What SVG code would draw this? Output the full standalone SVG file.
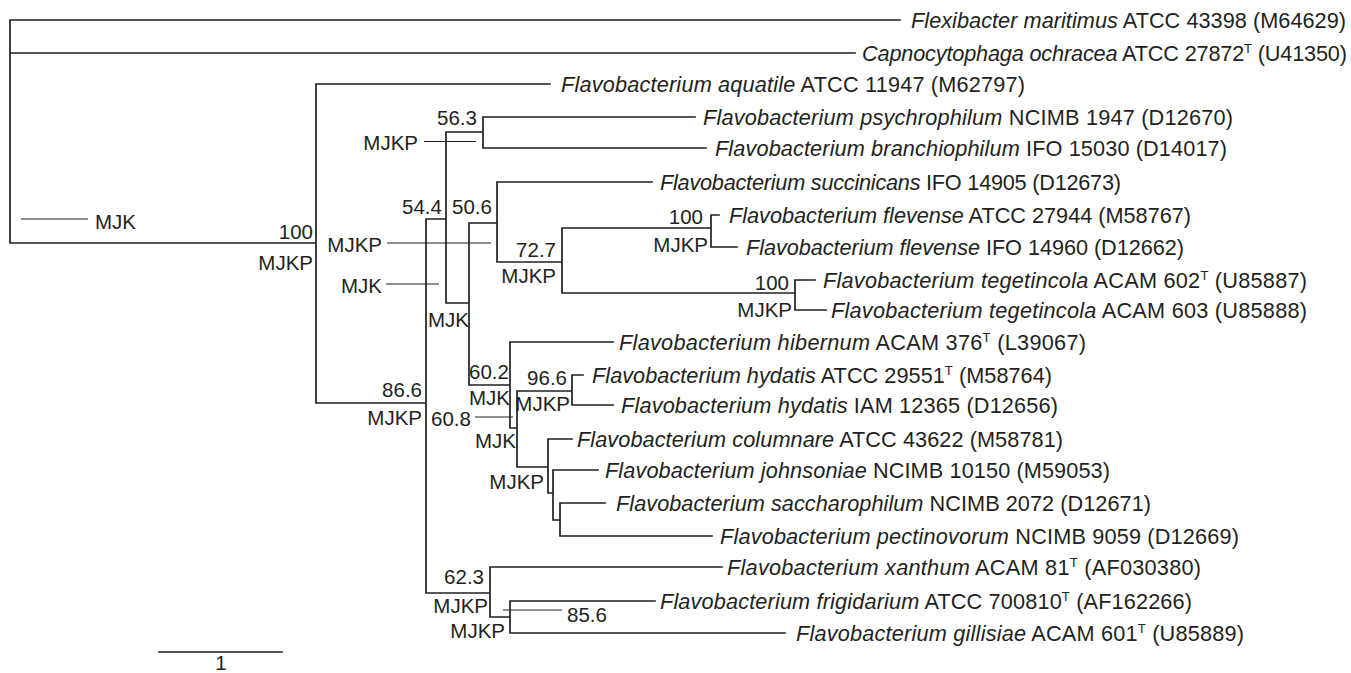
<svg xmlns="http://www.w3.org/2000/svg" width="1351" height="673" viewBox="0 0 1351 673">
<style>
.br{fill:none;stroke:#231f20;stroke-width:1.7;stroke-linecap:square}
.an{fill:none;stroke:#231f20;stroke-width:1.1}
text{font-family:"Liberation Sans",Arial,sans-serif;fill:#231f20}
.tx{font-size:21.7px}
.lb{font-size:20.5px}
.e{text-anchor:end}
.it{font-style:italic}
.sup{font-size:13px}
</style>
<rect width="1351" height="673" fill="#fff"/>
<g id="connectors">
<path class="br" d="M10,20H900M10,53H855M10,20V243H316M316,84V403M316,84H550M316,403H426M426,219V593M426,219H446M446,132V303M446,132H483M483,117V148M483,117H695M483,148H706M446,303H469M469,223V385M469,223H497M497,182V262M497,182H652M497,262H562M562,228V293M562,228H711M711,215V247M711,215H719M711,247H737M562,293H795M795,280V310M795,280H815M795,310H826M469,385H510M510,342V428M510,342H613M510,428H517M517,391V467M517,391H572M572,375V405M572,375H583M572,405H613M517,467H548M548,439V493M548,439H572M548,493H553M553,470V520M553,470H598M553,520H560M560,503V536M560,503H605M560,536H712M426,593H490M490,567V617M490,567H722M490,617H510M510,601V633M510,601H655M510,633H785"/>
<path class="an" d="M21,219H88M424,141.5H476M387,243H491M386,284H439M475,417H513M503,610H562"/>
<path class="br" d="M159,652H282"/>
</g>
<g id="taxa">
<g id="t1"><text class="tx" x="911" y="28" textLength="435" lengthAdjust="spacing"><tspan class="it">Flexibacter maritimus</tspan> ATCC 43398 (M64629)</text></g>
<g id="t2"><text class="tx" x="862" y="61" textLength="485" lengthAdjust="spacing"><tspan class="it">Capnocytophaga ochracea</tspan> ATCC 27872<tspan class="sup" dy="-8">T</tspan><tspan dy="8"> (U41350)</tspan></text></g>
<g id="t3"><text class="tx" x="561" y="92" textLength="464" lengthAdjust="spacing"><tspan class="it">Flavobacterium aquatile</tspan> ATCC 11947 (M62797)</text></g>
<g id="t4"><text class="tx" x="703" y="125" textLength="530" lengthAdjust="spacing"><tspan class="it">Flavobacterium psychrophilum</tspan> NCIMB 1947 (D12670)</text></g>
<g id="t5"><text class="tx" x="715" y="156" textLength="512" lengthAdjust="spacing"><tspan class="it">Flavobacterium branchiophilum</tspan> IFO 15030 (D14017)</text></g>
<g id="t6"><text class="tx" x="660" y="190" textLength="461" lengthAdjust="spacing"><tspan class="it">Flavobacterium succinicans</tspan> IFO 14905 (D12673)</text></g>
<g id="t7"><text class="tx" x="729" y="223" textLength="462" lengthAdjust="spacing"><tspan class="it">Flavobacterium flevense</tspan> ATCC 27944 (M58767)</text></g>
<g id="t8"><text class="tx" x="746" y="255" textLength="438" lengthAdjust="spacing"><tspan class="it">Flavobacterium flevense</tspan> IFO 14960 (D12662)</text></g>
<g id="t9"><text class="tx" x="823" y="288" textLength="484" lengthAdjust="spacing"><tspan class="it">Flavobacterium tegetincola</tspan> ACAM 602<tspan class="sup" dy="-8">T</tspan><tspan dy="8"> (U85887)</tspan></text></g>
<g id="t10"><text class="tx" x="831" y="318" textLength="476" lengthAdjust="spacing"><tspan class="it">Flavobacterium tegetincola</tspan> ACAM 603 (U85888)</text></g>
<g id="t11"><text class="tx" x="619" y="350" textLength="467" lengthAdjust="spacing"><tspan class="it">Flavobacterium hibernum</tspan> ACAM 376<tspan class="sup" dy="-8">T</tspan><tspan dy="8"> (L39067)</tspan></text></g>
<g id="t12"><text class="tx" x="592" y="383" textLength="460" lengthAdjust="spacing"><tspan class="it">Flavobacterium hydatis</tspan> ATCC 29551<tspan class="sup" dy="-8">T</tspan><tspan dy="8"> (M58764)</tspan></text></g>
<g id="t13"><text class="tx" x="621" y="413" textLength="437" lengthAdjust="spacing"><tspan class="it">Flavobacterium hydatis</tspan> IAM 12365 (D12656)</text></g>
<g id="t14"><text class="tx" x="577" y="447" textLength="486" lengthAdjust="spacing"><tspan class="it">Flavobacterium columnare</tspan> ATCC 43622 (M58781)</text></g>
<g id="t15"><text class="tx" x="605" y="478" textLength="505" lengthAdjust="spacing"><tspan class="it">Flavobacterium johnsoniae</tspan> NCIMB 10150 (M59053)</text></g>
<g id="t16"><text class="tx" x="616" y="511" textLength="535" lengthAdjust="spacing"><tspan class="it">Flavobacterium saccharophilum</tspan> NCIMB 2072 (D12671)</text></g>
<g id="t17"><text class="tx" x="720" y="544" textLength="519" lengthAdjust="spacing"><tspan class="it">Flavobacterium pectinovorum</tspan> NCIMB 9059 (D12669)</text></g>
<g id="t18"><text class="tx" x="727" y="575" textLength="474" lengthAdjust="spacing"><tspan class="it">Flavobacterium xanthum</tspan> ACAM 81<tspan class="sup" dy="-8">T</tspan><tspan dy="8"> (AF030380)</tspan></text></g>
<g id="t19"><text class="tx" x="660" y="609" textLength="532" lengthAdjust="spacing"><tspan class="it">Flavobacterium frigidarium</tspan> ATCC 700810<tspan class="sup" dy="-8">T</tspan><tspan dy="8"> (AF162266)</tspan></text></g>
<g id="t20"><text class="tx" x="796" y="641" textLength="448" lengthAdjust="spacing"><tspan class="it">Flavobacterium gillisiae</tspan> ACAM 601<tspan class="sup" dy="-8">T</tspan><tspan dy="8"> (U85889)</tspan></text></g>
</g>
<g id="node-labels">
<g id="n-root"><text class="lb" x="95" y="229">MJK</text></g>
<g id="n-ingroup"><text class="lb e" x="313" y="239">100</text><text class="lb e" x="313" y="270">MJKP</text></g>
<g id="n-56"><text class="lb" x="437" y="125">56.3</text><text class="lb e" x="418" y="150">MJKP</text></g>
<g id="n-54"><text class="lb" x="402" y="214">54.4</text><text class="lb e" x="382" y="293">MJK</text></g>
<g id="n-50"><text class="lb" x="452" y="214">50.6</text><text class="lb e" x="382" y="252">MJKP</text></g>
<g id="n-72"><text class="lb e" x="556" y="257">72.7</text><text class="lb e" x="556" y="283">MJKP</text></g>
<g id="n-flev"><text class="lb e" x="703" y="224">100</text><text class="lb e" x="708" y="252">MJKP</text></g>
<g id="n-teget"><text class="lb e" x="789" y="290">100</text><text class="lb e" x="792" y="317">MJKP</text></g>
<g id="n-469"><text class="lb" x="428" y="327">MJK</text></g>
<g id="n-86"><text class="lb e" x="422" y="397">86.6</text><text class="lb e" x="422" y="425">MJKP</text></g>
<g id="n-60-2"><text class="lb" x="469" y="379">60.2</text><text class="lb" x="469" y="405">MJK</text></g>
<g id="n-96"><text class="lb e" x="567" y="385">96.6</text><text class="lb e" x="570" y="411">MJKP</text></g>
<g id="n-60-8"><text class="lb" x="431" y="426">60.8</text><text class="lb" x="475" y="448">MJK</text></g>
<g id="n-col"><text class="lb e" x="544" y="489">MJKP</text></g>
<g id="n-62"><text class="lb e" x="484" y="584">62.3</text><text class="lb e" x="488" y="613">MJKP</text></g>
<g id="n-85"><text class="lb" x="567" y="622">85.6</text><text class="lb e" x="505" y="638">MJKP</text></g>
</g>
<g id="scale"><text class="lb" x="221" y="670" text-anchor="middle">1</text></g>
</svg>
